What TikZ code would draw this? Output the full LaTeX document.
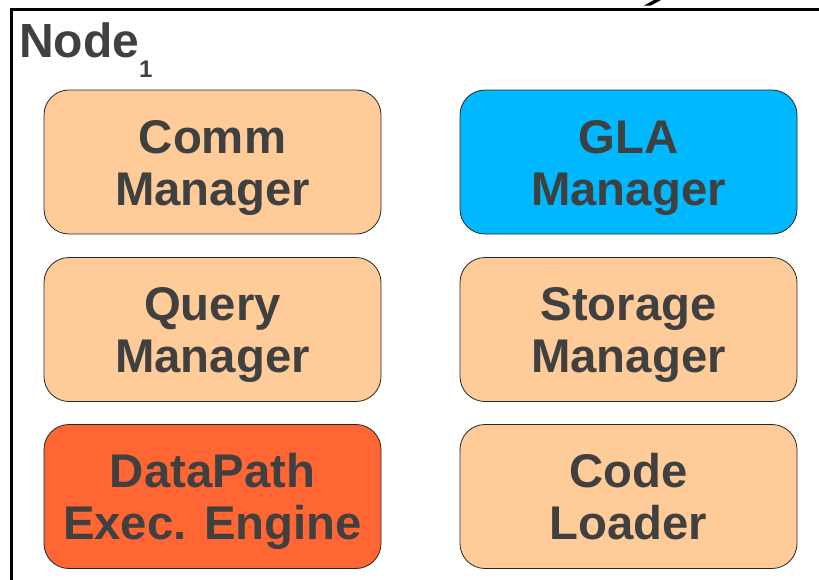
\documentclass[tikz,border=0pt]{standalone}
\usepackage{fontspec}
\setmainfont{Liberation Sans}
\definecolor{peach}{HTML}{FFCC99}
\definecolor{glablue}{HTML}{00B8FF}
\definecolor{dporange}{HTML}{FF6633}
\definecolor{txtgray}{HTML}{404040}
\newcommand{\twolines}[2]{\vtop{\baselineskip=52pt\lineskiplimit=-100pt\halign{\hfil##\hfil\cr #1\cr #2\cr}}}
\begin{document}
\begin{tikzpicture}[x=1pt,y=-1pt,
  comp/.style={draw=black!85, line width=0.8pt, rounded corners=25pt,
    minimum width=337pt, minimum height=144pt, inner sep=0pt,
    text height=40pt, text depth=58pt, text=txtgray,
    font=\fontsize{47.3}{52}\selectfont\bfseries},
  lbl/.style={inner sep=0pt, text=txtgray, font=\fontsize{48}{50}\selectfont\bfseries}]
\useasboundingbox (0,0) rectangle (819,579);
\begin{scope}
\clip (0,0) rectangle (819,579);
\draw[line width=3pt] (830,9) -- (11,9) -- (11,590);
\fill (644,5.5) -- (651,5.5) -- (661,0) -- (654,0) -- cycle;
\end{scope}
\node[lbl, anchor=base west] (title) at (19,57.5) {Node\raisebox{-20pt}{\fontsize{24}{24}\selectfont 1}};
\node[comp, fill=peach]    (comm)     at (212.5,162)   {\twolines{Comm}{Manager}};
\node[comp, fill=glablue]  (gla)      at (628.5,162)   {\twolines{GLA}{Manager}};
\node[comp, fill=peach]    (query)    at (212.5,329.5) {\twolines{Query}{Manager}};
\node[comp, fill=peach]    (storage)  at (628.5,329.5) {\twolines{Storage}{Manager}};
\node[comp, fill=dporange] (datapath) at (212.5,496.5) {\twolines{DataPath}{Exec. Engine}};
\node[comp, fill=peach]    (code)     at (628.5,496.5) {\twolines{Code}{Loader}};
\end{tikzpicture}
\end{document}
